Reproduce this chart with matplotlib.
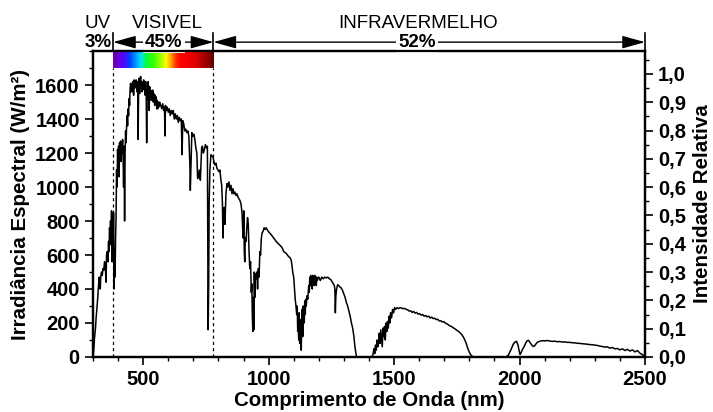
import numpy as np
import matplotlib
matplotlib.use('Agg')
import matplotlib.pyplot as plt
from matplotlib.colors import LinearSegmentedColormap
from matplotlib.ticker import MultipleLocator, FuncFormatter

plt.rcParams['font.family'] = ['Liberation Sans', 'DejaVu Sans']
plt.rcParams['font.weight'] = 'bold'
plt.rcParams['axes.labelweight'] = 'bold'

# espectro solar (nm, W/m2)
wl = [300, 303, 306, 310, 313, 316, 319, 322, 325, 327, 329, 331, 334, 337, 340, 343, 346, 349, 352, 354,
      357, 360, 362, 364, 366, 368, 370, 372, 374, 376, 378, 380, 382, 384, 386, 388, 390, 392, 394, 396,
      398, 400, 402, 404, 406, 408, 410, 412, 414, 416, 418, 420, 422, 424, 426, 428, 430, 432, 434, 436,
      438, 440, 442, 444, 446, 448, 450, 452, 454, 456, 458, 460, 462, 464, 466, 468, 470, 472, 474, 476,
      478, 480, 482, 484, 486, 488, 490, 492, 494, 496, 498, 500, 502, 504, 506, 508, 510, 512, 514, 516,
      518, 520, 522, 524, 526, 528, 530, 532, 534, 536, 538, 540, 542, 544, 546, 548, 550, 552, 554, 556,
      558, 560, 562, 566, 570, 574, 578, 582, 585, 587, 589, 592, 596, 600, 604, 608, 612, 616, 620, 624,
      628, 632, 636, 640, 644, 648, 652, 655, 658, 662, 666, 670, 674, 678, 682, 686, 688, 690, 694, 698,
      702, 706, 710, 714, 717, 720, 724, 728, 730, 733, 736, 740, 744, 748, 752, 756, 759, 761, 763, 766,
      770, 774, 778, 782, 786, 790, 794, 798, 802, 806, 810, 813, 816, 818, 820, 823, 826, 830, 834, 838,
      842, 846, 850, 854, 858, 862, 866, 870, 874, 878, 882, 886, 890, 894, 897, 899, 901, 903, 905, 907,
      910, 913, 916, 919, 922, 925, 928, 931, 933, 935, 937, 939, 941, 943, 945, 947, 950, 953, 956, 959,
      962, 965, 968, 971, 974, 978, 982, 986, 990, 994, 998, 1004, 1010, 1020, 1030, 1040, 1050, 1055, 1060, 1065,
      1070, 1075, 1080, 1085, 1090, 1093, 1096, 1100, 1103, 1106, 1109, 1112, 1114, 1116, 1118, 1120, 1122, 1124, 1126, 1128,
      1130, 1132, 1134, 1136, 1138, 1140, 1142, 1144, 1146, 1148, 1150, 1153, 1156, 1158, 1160, 1162, 1164, 1166, 1168, 1170,
      1172, 1174, 1176, 1178, 1180, 1182, 1184, 1186, 1188, 1190, 1192, 1194, 1196, 1200, 1206, 1212, 1218, 1224, 1230, 1236,
      1242, 1248, 1254, 1258, 1262, 1264, 1266, 1268, 1271, 1275, 1280, 1285, 1290, 1295, 1300, 1305, 1310, 1315, 1320, 1325,
      1330, 1335, 1340, 1344, 1348, 1351, 1410, 1415, 1420, 1423, 1426, 1429, 1432, 1435, 1438, 1441, 1444, 1447, 1450, 1453,
      1456, 1459, 1462, 1465, 1468, 1471, 1474, 1477, 1480, 1483, 1486, 1490, 1494, 1498, 1502, 1506, 1512, 1518, 1524, 1530,
      1536, 1542, 1548, 1554, 1560, 1566, 1572, 1578, 1584, 1590, 1596, 1602, 1608, 1614, 1620, 1626, 1632, 1638, 1644, 1650,
      1656, 1662, 1668, 1674, 1680, 1686, 1692, 1698, 1704, 1710, 1716, 1722, 1728, 1734, 1740, 1746, 1752, 1758, 1764, 1770,
      1776, 1782, 1788, 1794, 1800, 1806, 1812, 1820, 1945, 1955, 1965, 1975, 1982, 1988, 1994, 1998, 2002, 2006, 2012, 2018,
      2024, 2030, 2036, 2042, 2048, 2054, 2060, 2066, 2072, 2080, 2090, 2100, 2110, 2120, 2130, 2140, 2150, 2160, 2170, 2180,
      2190, 2200, 2210, 2220, 2230, 2240, 2250, 2260, 2270, 2280, 2290, 2300, 2310, 2320, 2330, 2340, 2350, 2360, 2370, 2380,
      2390, 2400, 2410, 2420, 2430, 2440, 2450, 2460, 2470, 2480, 2490, 2500]
irr = [0, 40, 110, 170, 240, 290, 350, 420, 470, 440, 400, 470, 500, 480, 520, 510, 560, 540, 440, 600,
       620, 560, 680, 620, 760, 700, 800, 660, 860, 560, 700, 640, 850, 400, 640, 470, 700, 820, 1100, 1000,
       1220, 1150, 1240, 1060, 1260, 1200, 1270, 1150, 1240, 1200, 1280, 1180, 1000, 1240, 800, 1200, 1330, 1260, 1360, 1420,
       1360, 1460, 1420, 1520, 1480, 1580, 1610, 1560, 1600, 1560, 1620, 1600, 1540, 1630, 1580, 1620, 1590, 1630, 1600, 1560,
       1620, 1280, 1600, 1640, 1550, 1620, 1650, 1590, 1620, 1560, 1610, 1580, 1630, 1570, 1600, 1540, 1620, 1560, 1260, 1580,
       1520, 1620, 1560, 1450, 1590, 1540, 1570, 1510, 1560, 1520, 1570, 1500, 1550, 1520, 1480, 1540, 1500, 1530, 1460, 1510,
       1460, 1500, 1470, 1500, 1480, 1460, 1490, 1450, 1470, 1300, 1480, 1450, 1470, 1440, 1460, 1420, 1450, 1430, 1450, 1400,
       1430, 1400, 1420, 1380, 1410, 1390, 1400, 1190, 1390, 1370, 1330, 1340, 1320, 1330, 1300, 1140, 980, 1100, 1320, 1300,
       1310, 1280, 1230, 1200, 1050, 1060, 1100, 1040, 1120, 1230, 1240, 1200, 1220, 1250, 1230, 1240, 160, 400, 900, 1100,
       1190, 1180, 1180, 1150, 1130, 1140, 1110, 1100, 1090, 1100, 1040, 1010, 900, 700, 820, 880, 780, 960, 1020, 1000,
       1030, 980, 1010, 960, 990, 960, 970, 950, 960, 940, 930, 920, 900, 850, 740, 700, 860, 620, 560, 700,
       680, 760, 820, 780, 620, 520, 560, 380, 430, 250, 150, 350, 160, 500, 350, 490, 460, 500, 400, 520,
       470, 620, 600, 700, 730, 740, 760, 750, 760, 750, 740, 730, 720, 700, 680, 665, 650, 640, 620, 615,
       610, 600, 590, 585, 570, 540, 500, 470, 400, 340, 300, 250, 300, 150, 210, 100, 260, 80, 220, 160,
       40, 200, 280, 120, 300, 230, 200, 330, 250, 340, 300, 360, 340, 380, 420, 380, 470, 420, 480, 440,
       460, 400, 480, 440, 470, 420, 480, 430, 470, 420, 470, 450, 460, 470, 450, 470, 460, 470, 465, 470,
       460, 455, 440, 430, 420, 400, 260, 360, 400, 425, 420, 410, 405, 390, 370, 350, 320, 300, 270, 240,
       200, 170, 120, 60, 20, 0, 0, 10, 50, 20, 70, 40, 100, 60, 90, 140, 80, 160, 110, 60,
       170, 120, 180, 100, 200, 150, 210, 170, 240, 200, 260, 230, 280, 260, 290, 280, 290, 285, 290, 288,
       284, 286, 280, 278, 270, 272, 262, 268, 258, 262, 252, 255, 246, 250, 240, 244, 236, 240, 230, 234,
       226, 228, 220, 222, 212, 214, 206, 208, 200, 195, 190, 183, 180, 174, 168, 162, 155, 150, 140, 132,
       118, 100, 78, 50, 28, 12, 4, 0, 0, 10, 40, 75, 88, 92, 70, 40, 15, 25, 45, 60,
       80, 95, 98, 85, 72, 62, 65, 78, 88, 92, 96, 95, 97, 94, 92, 93, 90, 91, 88, 89,
       86, 86, 84, 83, 81, 80, 78, 77, 75, 73, 72, 70, 68, 64, 62, 58, 60, 52, 56, 48,
       50, 42, 48, 38, 45, 35, 42, 30, 38, 22, 14, 0]

# faixas do espectro (limites em nm) e rotulos
uv_lim = 380
vis_lim = 780
x_max = 2500
irr_ref = 1665  # irradiancia que corresponde a intensidade relativa 1,0

# cores do arco-iris na barra do visivel
rainbow_nm = [380, 419, 446, 472, 491, 511, 544, 577, 590, 610, 629, 649, 708, 747, 780]
rainbow_col = ['#7000a0', '#5a00ff', '#0040ff', '#00a0ff', '#00e0ff', '#00ff40', '#40ff00', '#c0ff00',
               '#ffff00', '#ffa000', '#ff3000', '#ff0000', '#e00000', '#a00000', '#600000']

fig = plt.figure(figsize=(7.13, 4.12), dpi=100)
ax = fig.add_axes([0.1304, 0.1335, 0.7742, 0.7427])

ax.plot(wl, irr, color='black', lw=1.1)

ax.set_xlim(300, x_max)
ax.set_ylim(0, 1800)
ax.xaxis.set_major_locator(MultipleLocator(500))
ax.xaxis.set_minor_locator(MultipleLocator(100))
ax.set_yticks(np.arange(0, 1601, 200))
ax.yaxis.set_minor_locator(MultipleLocator(100))
ax.tick_params(which='major', direction='out', length=6, width=1.2, labelsize=14.5)
ax.tick_params(which='minor', direction='out', length=3, width=1.0)
for s in ax.spines.values():
    s.set_linewidth(1.6)

ax.set_xlabel('Comprimento de Onda (nm)', fontsize=14.8, labelpad=1)
ax.set_ylabel('Irradiância Espectral (W/m²)', fontsize=14.8, labelpad=4)

# barra colorida do visivel
cmap = LinearSegmentedColormap.from_list(
    'vis', [((n - rainbow_nm[0]) / (rainbow_nm[-1] - rainbow_nm[0]), c) for n, c in zip(rainbow_nm, rainbow_col)])
ax.imshow(np.linspace(0, 1, 256).reshape(1, -1), cmap=cmap, aspect='auto',
          extent=(uv_lim, vis_lim, 1700, 1800), zorder=3)
ax.set_xlim(300, x_max)
ax.set_ylim(0, 1800)

ax.vlines([uv_lim, vis_lim], 0, 1700, colors='black', linestyles=(0, (2.5, 2.5)), lw=0.9)

# eixo da direita
ax2 = ax.twinx()
ax2.set_ylim(0, 1800 / irr_ref)
ax2.set_yticks(np.arange(0, 1.01, 0.1))
ax2.yaxis.set_minor_locator(MultipleLocator(0.05))
ax2.yaxis.set_major_formatter(FuncFormatter(lambda v, p: ('%.1f' % v).replace('.', ',')))
ax2.tick_params(which='major', direction='out', length=6, width=1.2, labelsize=14.5)
ax2.tick_params(which='minor', direction='out', length=3, width=1.0)
for s in ax2.spines.values():
    s.set_linewidth(1.6)
ax2.set_ylabel('Intensidade Relativa', fontsize=14.8, labelpad=5)

# setas e rotulos no topo
tr = ax.get_xaxis_transform()
y_arr = 1.029
y_lab = 1.09
for x in [uv_lim, vis_lim, x_max]:
    ax.plot([x, x], [1.0, 1.06], transform=tr, color='black', lw=1.2, clip_on=False)

aprops = dict(arrowstyle='<|-|>,head_length=1.0,head_width=0.28', color='black', lw=1.0,
              shrinkA=0, shrinkB=0, mutation_scale=14)
ax.annotate('', xy=(vis_lim, y_arr), xytext=(uv_lim, y_arr), xycoords=tr, textcoords=tr,
            arrowprops=aprops, annotation_clip=False)
ax.annotate('', xy=(x_max, y_arr), xytext=(vis_lim, y_arr), xycoords=tr, textcoords=tr,
            arrowprops=aprops, annotation_clip=False)

box = dict(facecolor='white', edgecolor='none', pad=1.5)
ax.text(376, y_arr, '3%', transform=tr, ha='right', va='center', fontsize=13.5, fontweight='bold')
ax.text(583, y_arr, '45%', transform=tr, ha='center', va='center', fontsize=13.5, fontweight='bold', bbox=box)
ax.text(1591, y_arr, '52%', transform=tr, ha='center', va='center', fontsize=13.5, fontweight='bold', bbox=box)

ax.text(320, y_lab, 'UV', transform=tr, ha='center', va='center', fontsize=13.5, fontweight='normal')
ax.text(595, y_lab, 'VISIVEL', transform=tr, ha='center', va='center', fontsize=13.5, fontweight='normal')
ax.text(1595, y_lab, 'INFRAVERMELHO', transform=tr, ha='center', va='center', fontsize=13.5, fontweight='normal')

fig.savefig('out.png', dpi=100)
